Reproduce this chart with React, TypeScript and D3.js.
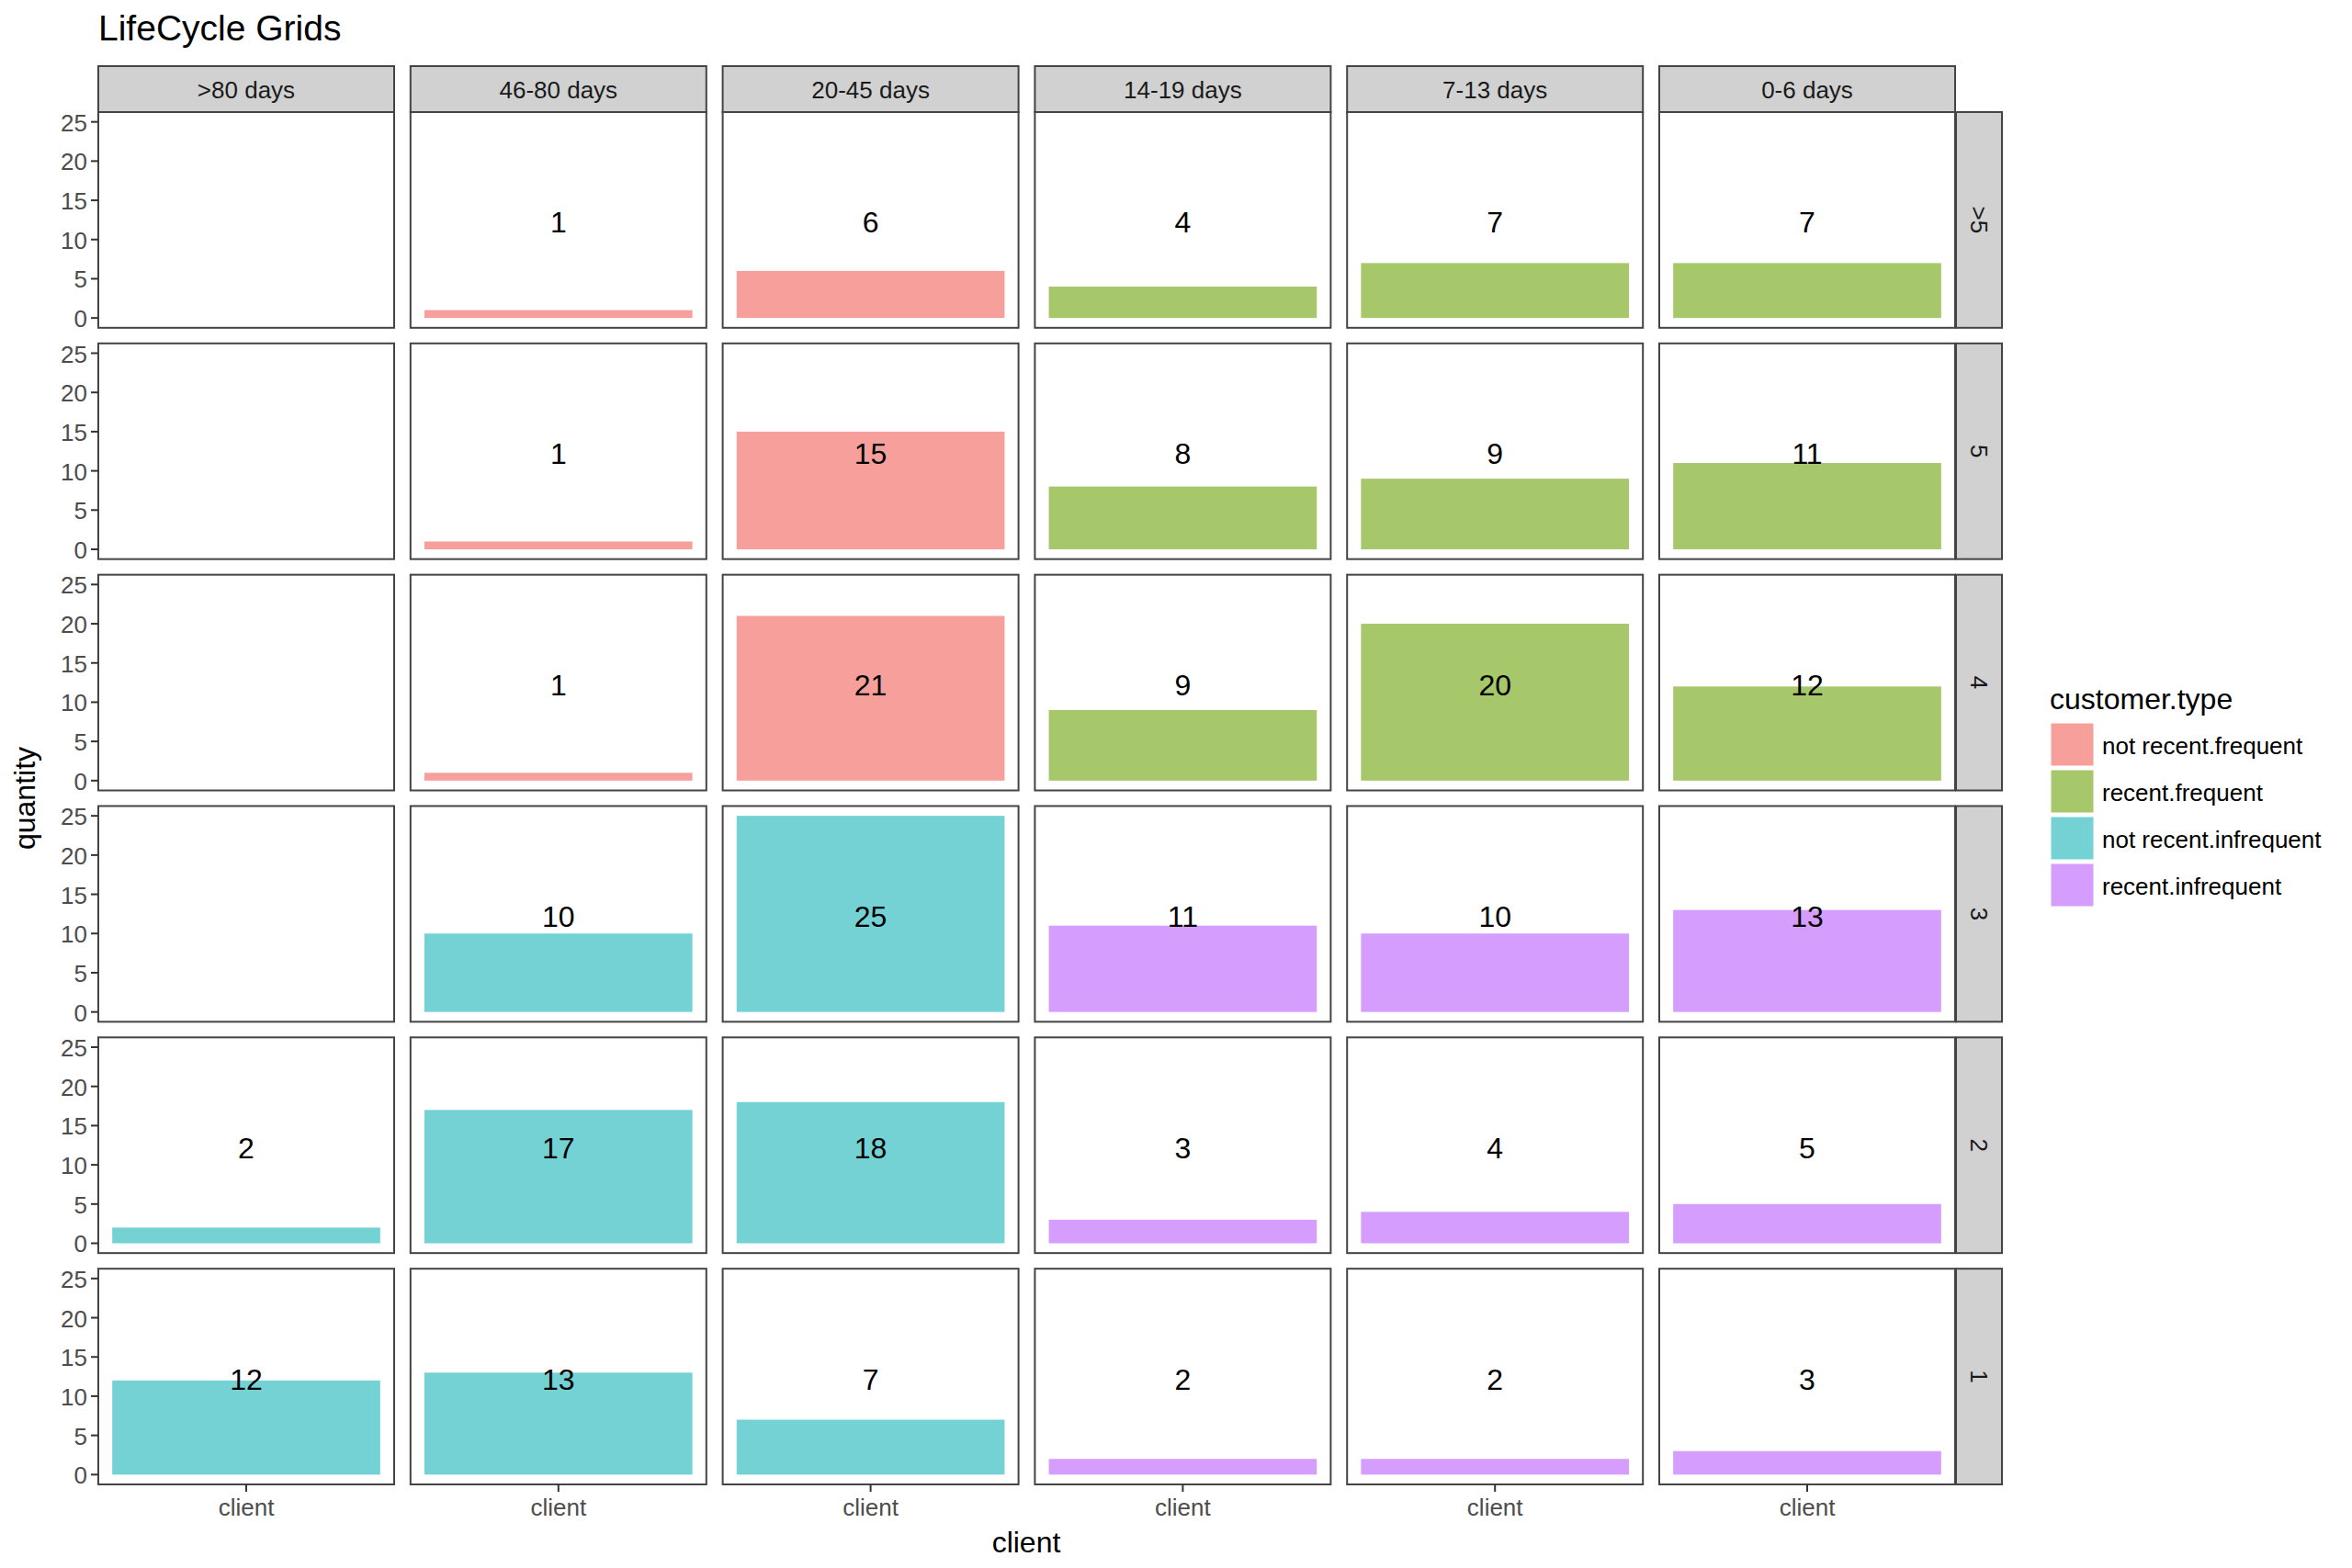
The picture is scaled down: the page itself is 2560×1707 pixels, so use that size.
import * as d3 from 'd3'

// facet columns (recency) and rows (frequency)
const columns = ['>80 days', '46-80 days', '20-45 days', '14-19 days', '7-13 days', '0-6 days']
const rows = ['>5', '5', '4', '3', '2', '1']
const recency = ['not recent', 'not recent', 'not recent', 'recent', 'recent', 'recent']
const frequency = ['frequent', 'frequent', 'frequent', 'infrequent', 'infrequent', 'infrequent']

// quantity per row, one value per column (null = no clients)
const rowGt5 = [null, 1, 6, 4, 7, 7]
const row5 = [null, 1, 15, 8, 9, 11]
const row4 = [null, 1, 21, 9, 20, 12]
const row3 = [null, 10, 25, 11, 10, 13]
const row2 = [2, 17, 18, 3, 4, 5]
const row1 = [12, 13, 7, 2, 2, 3]
const quantities: (number | null)[][] = [rowGt5, row5, row4, row3, row2, row1]

const customerTypes = ['not recent.frequent', 'recent.frequent', 'not recent.infrequent', 'recent.infrequent']
const typeColors = ['#F7A09B', '#A6C76A', '#75D2D4', '#D49DFE']
const yTicks = [0, 5, 10, 15, 20, 25]

const W = 2560
const H = 1707
const FONT = '"Liberation Sans", Arial, Helvetica, sans-serif'

export default function App() {
  const colScale = d3.scaleBand<string>().domain(columns).range([107, 2128]).paddingInner(0.0524)
  const rowScale = d3.scaleBand<string>().domain(rows).range([122, 1616]).paddingInner(0.0675)
  const panelW = colScale.bandwidth()
  const panelH = rowScale.bandwidth()

  const x = d3.scaleBand<string>().domain(['client']).range([0, panelW]).paddingOuter(0.052)
  const y = d3.scaleLinear().domain([-1.25, 26.25]).range([panelH, 0])
  const color = d3.scaleOrdinal<string, string>().domain(customerTypes).range(typeColors)

  const stripTop = 72
  const stripH = 122 - stripTop
  const stripRightX = 2129
  const stripW = 50

  return (
    <svg width={W} height={H} style={{ position: 'absolute', left: 0, top: 0, background: '#fff' }} fontFamily={FONT}>
      <text x={107} y={44} fontSize={39} fill="#000">LifeCycle Grids</text>

      {/* column strips */}
      {columns.map(c => (
        <g key={c} transform={`translate(${colScale(c)},${stripTop})`}>
          <rect width={panelW} height={stripH} fill="#D1D1D1" stroke="#444" strokeWidth={2} />
          <text x={panelW / 2} y={stripH / 2 + 1} textAnchor="middle" dominantBaseline="central" fontSize={26} fill="#1a1a1a">{c}</text>
        </g>
      ))}

      {/* row strips */}
      {rows.map(r => (
        <g key={r} transform={`translate(${stripRightX},${rowScale(r)})`}>
          <rect width={stripW} height={panelH} fill="#D1D1D1" stroke="#444" strokeWidth={2} />
          <text transform={`translate(${stripW / 2},${panelH / 2}) rotate(90)`} textAnchor="middle" dominantBaseline="central" fontSize={26} fill="#1a1a1a">{r}</text>
        </g>
      ))}

      {/* panels */}
      {rows.map((r, ri) => columns.map((c, ci) => {
        const v = quantities[ri][ci]
        const type = `${recency[ci]}.${frequency[ri]}`
        return (
          <g key={r + c} transform={`translate(${colScale(c)},${rowScale(r)})`}>
            <rect width={panelW} height={panelH} fill="#fff" />
            {v != null && (
              <rect x={x('client')} y={y(v)} width={x.bandwidth()} height={y(0) - y(v)} fill={color(type)} />
            )}
            {v != null && (
              <text x={panelW / 2} y={y(12.5) + 3} textAnchor="middle" dominantBaseline="central" fontSize={32} fill="#000">{v}</text>
            )}
            <rect width={panelW} height={panelH} fill="none" stroke="#444" strokeWidth={2} />
            {ci === 0 && yTicks.map(t => (
              <g key={t} transform={`translate(0,${y(t)})`}>
                <line x1={-8} x2={0} stroke="#333" strokeWidth={2} />
                <text x={-12} y={1} textAnchor="end" dominantBaseline="central" fontSize={26} fill="#4D4D4D">{t}</text>
              </g>
            ))}
            {ri === rows.length - 1 && (
              <g transform={`translate(${x('client')! + x.bandwidth() / 2},${panelH})`}>
                <line y1={0} y2={8} stroke="#333" strokeWidth={2} />
                <text y={34} textAnchor="middle" fontSize={26} fill="#4D4D4D">client</text>
              </g>
            )}
          </g>
        )
      }))}

      {/* axis titles */}
      <text x={1117} y={1690} textAnchor="middle" fontSize={32} fill="#000">client</text>
      <text transform="translate(38,869) rotate(-90)" textAnchor="middle" fontSize={32} fill="#000">quantity</text>

      {/* legend */}
      <g transform="translate(2231,772)">
        <text x={0} y={0} fontSize={32} fill="#000">customer.type</text>
        {customerTypes.map((t, i) => (
          <g key={t} transform={`translate(1,${15 + i * 51})`}>
            <rect width={47} height={47} fill={color(t)} stroke="#fff" strokeWidth={1} />
            <text x={56} y={25} dominantBaseline="central" fontSize={26} fill="#000">{t}</text>
          </g>
        ))}
      </g>
    </svg>
  )
}
